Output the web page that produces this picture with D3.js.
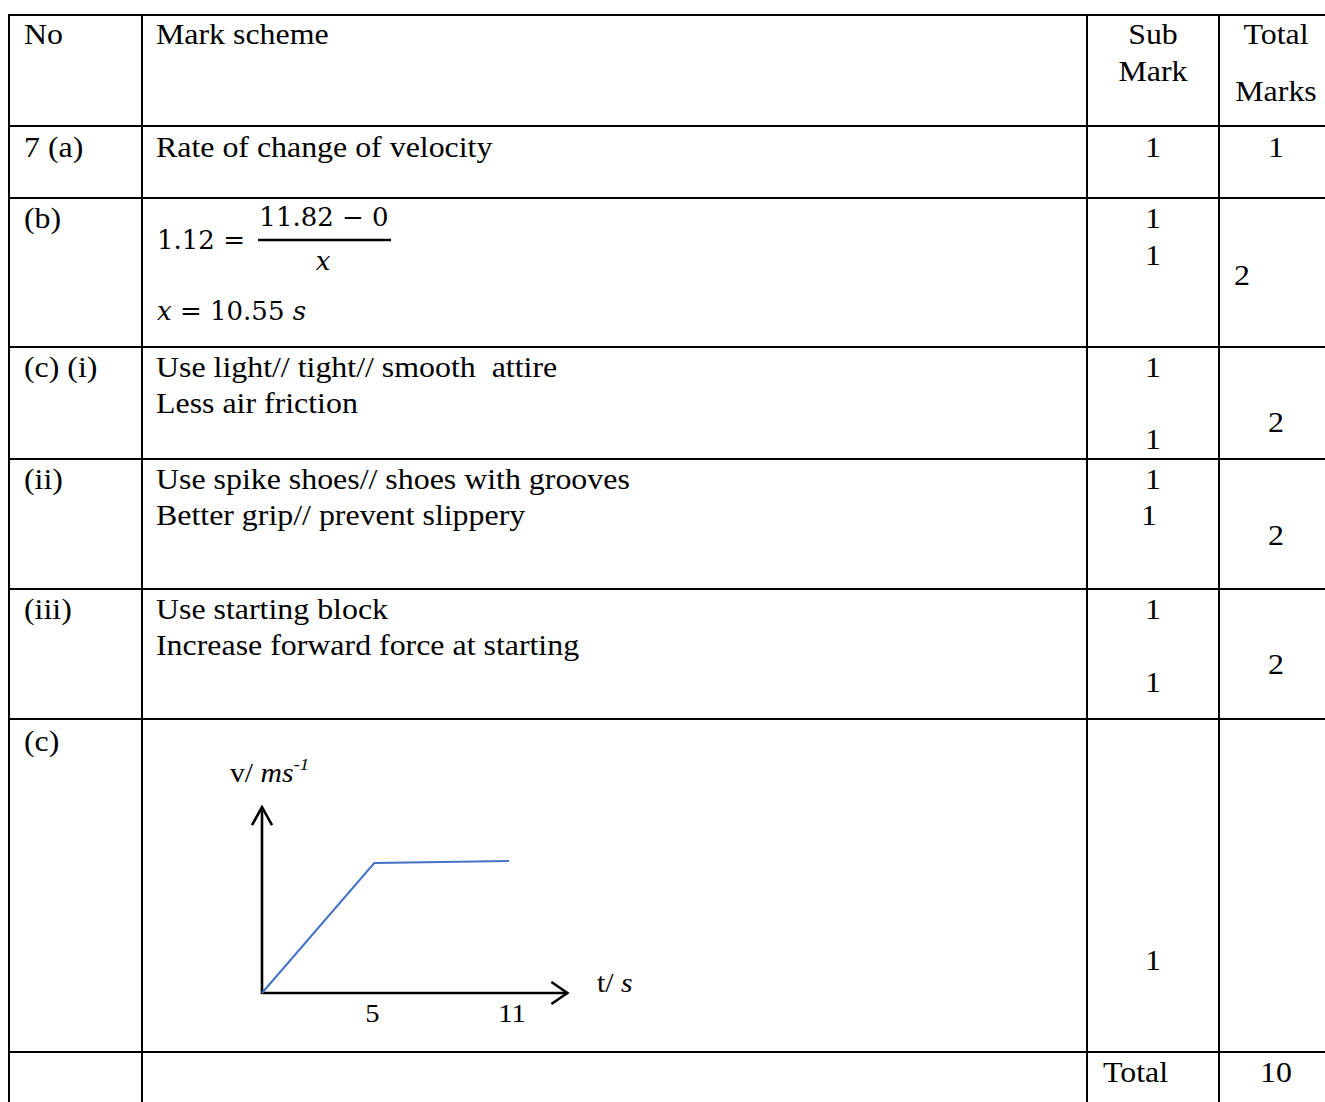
<!DOCTYPE html>
<html>
<head>
<meta charset="utf-8">
<script src="https://cdn.jsdelivr.net/npm/d3@7/dist/d3.min.js"></script>
<style>
  html, body { margin: 0; padding: 0; background: #fff; }
  svg { display: block; }
  text { white-space: pre; }
</style>
</head>
<body>
<svg id="chart" width="1325" height="1102"></svg>
<script>
// ---------------- DATA ----------------
const rowLabels = ["No", "7 (a)", "(b)", "(c) (i)", "(ii)", "(iii)", "(c)", ""];
const schemeLines = [
  ["Mark scheme"],
  ["Rate of change of velocity"],
  [],
  ["Use light// tight// smooth  attire", "Less air friction"],
  ["Use spike shoes// shoes with grooves", "Better grip// prevent slippery"],
  ["Use starting block", "Increase forward force at starting"],
  [],
  []
];
const subMarks = [["Sub", "Mark"], ["1"], ["1", "1"], ["1", "1"], ["1", "1"], ["1", "1"], ["1"], ["Total"]];
const totalMarks = [["Total", "Marks"], ["1"], ["2"], ["2"], ["2"], ["2"], [], ["10"]];
const formulaLHS = "1.12 =";
const formulaNum = "11.82 \u2212 0";
const formulaDen = "x";
const formulaAns = ["x", " = 10.55 ", "s"];

// graph data: velocity-time sketch
const timeValues = [0, 5, 11];
const velocityValues = [0, 11.82, 12];
const timeTicks = [5, 11];
const yLabel = ["v/ ", "ms", "-1"];
const xLabel = ["t/ ", "s"];

// ---------------- LAYOUT ----------------
const SX = 1.1;                // horizontal stretch of the scanned page
const FONT = "Liberation Serif, Times New Roman, serif";
const MATH = "DejaVu Serif, serif";
const FS = 29;
const colX = [9, 142, 1087, 1219, 1330];
const rowY = [15, 126, 198, 347, 459, 589, 719, 1052, 1110];

const labelBase = [44, 157, 228, 377, 489, 619, 751, 0];
const schemeBase = [[44], [157], [], [377, 413], [489, 525], [619, 655], [], []];
const subPos = [[[1153,44],[1153,81]], [[1153,157]], [[1153,228],[1153,265]], [[1153,377],[1153,449]],
                [[1153,489],[1149,525]], [[1153,619],[1153,692]], [[1153,970]], [[1103,1082,"start"]]];
const totPos = [[[1276,44],[1276,101]], [[1276,157]], [[1242,285]], [[1276,432]], [[1276,545]], [[1276,674]], [], [[1276,1082]]];

const svg = d3.select("#chart");

function txt(x, y, s, anchor, opts = {}) {
  return svg.append("text")
    .attr("transform", `translate(${x},${y}) scale(${opts.sx || SX},1)`)
    .attr("text-anchor", anchor || "start")
    .attr("font-family", opts.family || FONT)
    .attr("font-size", opts.size || FS)
    .attr("font-style", opts.style || "normal")
    .attr("fill", "#000")
    .text(s);
}

// table grid
const grid = svg.append("g").attr("stroke", "#000").attr("stroke-width", 2);
rowY.slice(0, -1).forEach(y => grid.append("line").attr("x1", colX[0] - 1).attr("x2", 1325).attr("y1", y).attr("y2", y));
colX.slice(0, -1).forEach(x => grid.append("line").attr("x1", x).attr("x2", x).attr("y1", rowY[0] - 1).attr("y2", 1102));

// cell texts
rowLabels.forEach((s, i) => { if (s) txt(24, labelBase[i], s); });
schemeLines.forEach((lines, i) => lines.forEach((s, j) => txt(156, schemeBase[i][j], s)));
subMarks.forEach((lines, i) => lines.forEach((s, j) => {
  const p = subPos[i][j]; txt(p[0], p[1], s, p[2] || "middle");
}));
totalMarks.forEach((lines, i) => lines.forEach((s, j) => {
  const p = totPos[i][j]; txt(p[0], p[1], s, "middle");
}));

// formula (row b)
const MS = 26, MSX = 1.0;
txt(157, 249, formulaLHS, "start", {family: MATH, size: MS, sx: MSX});
txt(324, 226, formulaNum, "middle", {family: MATH, size: MS, sx: MSX});
svg.append("line").attr("x1", 258).attr("x2", 391).attr("y1", 240).attr("y2", 240)
  .attr("stroke", "#000").attr("stroke-width", 2.6);
txt(323, 270, formulaDen, "middle", {family: MATH, size: MS, sx: MSX, style: "italic"});
const ans = svg.append("text")
  .attr("transform", `translate(157,320) scale(${MSX},1)`)
  .attr("font-family", MATH).attr("font-size", MS);
ans.append("tspan").attr("font-style", "italic").text(formulaAns[0]);
ans.append("tspan").text(formulaAns[1]);
ans.append("tspan").attr("font-style", "italic").text(formulaAns[2]);

// ---------------- GRAPH ----------------
const x = d3.scaleLinear().domain([0, 11]).range([262, 509]);
const y = d3.scaleLinear().domain([0, 12]).range([993, 861]);
const axisTMax = 13.6, axisVMax = 16.9;

const g = svg.append("g");
g.append("line").attr("x1", x(0)).attr("x2", x(axisTMax)).attr("y1", y(0)).attr("y2", y(0))
  .attr("stroke", "#000").attr("stroke-width", 2.6);
g.append("line").attr("x1", x(0)).attr("x2", x(0)).attr("y1", y(0) + 1).attr("y2", y(axisVMax))
  .attr("stroke", "#000").attr("stroke-width", 2.6);
const xe = x(axisTMax), ye = y(axisVMax);
g.append("path").attr("d", `M${xe - 16},${y(0) - 11}L${xe},${y(0)}L${xe - 16},${y(0) + 11}`)
  .attr("fill", "none").attr("stroke", "#000").attr("stroke-width", 2.6);
g.append("path").attr("d", `M${x(0) - 10},${ye + 18}L${x(0)},${ye}L${x(0) + 10},${ye + 18}`)
  .attr("fill", "none").attr("stroke", "#000").attr("stroke-width", 2.6);

// velocity line
const pts = timeValues.map((t, i) => [t, velocityValues[i]]);
g.append("path").datum(pts)
  .attr("d", d3.line().x(d => x(d[0])).y(d => y(d[1])))
  .attr("fill", "none").attr("stroke", "#4472c4").attr("stroke-width", 2);

// tick labels via axis
const ax = g.append("g").attr("transform", `translate(0,${y(0)})`)
  .call(d3.axisBottom(x).tickValues(timeTicks).tickSize(0).tickPadding(11).tickFormat(d3.format("d")));
ax.select(".domain").remove();
ax.selectAll("text").attr("font-family", FONT).attr("font-size", 26).attr("fill", "#000")
  .attr("transform", `scale(${SX},1)`).attr("dy", "0.71em");
ax.selectAll(".tick").filter(d => d === 11).attr("transform", `translate(${x(11) + 3},0)`);
ax.selectAll(".tick").filter(d => d === 5).attr("transform", `translate(${x(5) - 2},0)`);

// axis titles
const yl = svg.append("text").attr("transform", `translate(230,782) scale(${SX},1)`)
  .attr("font-family", FONT).attr("font-size", 27);
yl.append("tspan").text(yLabel[0]);
yl.append("tspan").attr("font-style", "italic").text(yLabel[1]);
yl.append("tspan").attr("font-style", "italic").attr("font-size", 17).attr("dy", -12).text(yLabel[2]);

const xl = svg.append("text").attr("transform", `translate(597,992) scale(${SX},1)`)
  .attr("font-family", FONT).attr("font-size", 27);
xl.append("tspan").text(xLabel[0]);
xl.append("tspan").attr("font-style", "italic").text(xLabel[1]);
</script>
</body>
</html>
